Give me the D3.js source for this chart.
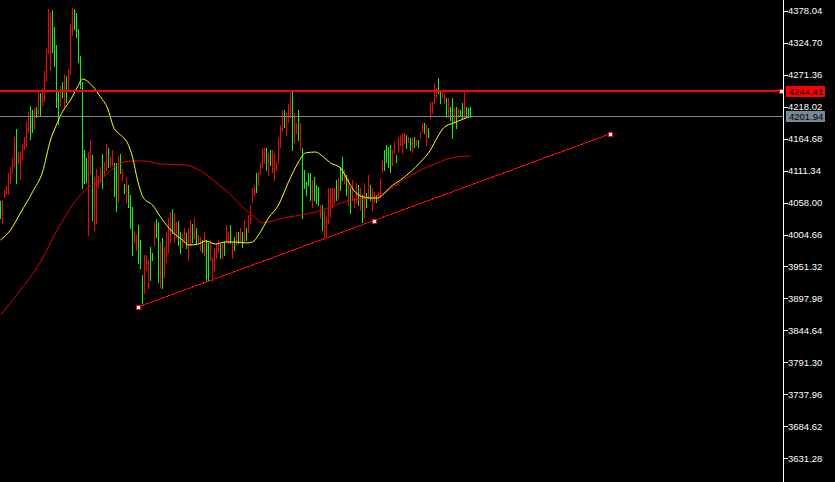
<!DOCTYPE html>
<html lang="en">
<head>
<meta charset="utf-8">
<style>
  body { margin: 0; background: #000; }
  svg { background: #000; display: block; }
  .axis-label { fill: #fff; font-family: "Liberation Sans", Arial, sans-serif; font-size: 9.5px; }
  .box-label { fill: #000; font-family: "Liberation Sans", Arial, sans-serif; font-size: 9.5px; }
</style>
<script src="https://d3js.org/d3.v7.min.js"></script>
</head>
<body>
<script>
var width = 835, height = 482;

// price axis labels (right side)
var tickLabels = ["4378.04","4324.70","4271.36","4218.02","4164.68","4111.34","4058.00",
  "4004.66","3951.32","3897.98","3844.64","3791.30","3737.96","3684.62","3631.28"];

// bar colours, one letter per bar: r = red, g = green
var barColor = ("grrrrrrrgr" + "rrrrrggrgr" + "grrrrrgggg" + "rgrgrrrggg" + "ggggrrgrrr" +
  "rgrrgrrggr" + "grgrgggrrg" + "ggrrrggrgg" + "rgrrrrgrrg" + "grrgrrgrgr" +
  "rgrggrrrrr" + "grgrrgrgrg" + "rgrgrrrrgr" + "rrrgrgrrrr" + "rrgrrrgrrg" +
  "rgggggrggg" + "rgrrrrrrgr" + "ggrgrgrrrg" + "rgrgrgrrgr" + "rrggggrrgr" +
  "rrrgrgrgrg" + "rrgrgrrrrg" + "grrgrggrgr" + "ggrggg").split("");

var highs = [
  4061,4061,4079,4086,4107,4117,4132,4167,4181,4142,
  4144,4156,4167,4192,4209,4219,4212,4216,4217,4242,
  4241,4249,4277,4314,4381,4374,4379,4351,4321,4244,
  4252,4259,4272,4269,4281,4356,4383,4381,4374,4348,
  4302,4259,4146,4132,4142,4162,4137,4101,4114,4102,
  4117,4139,4126,4156,4149,4134,4146,4124,4124,4136,
  4139,4114,4089,4101,4087,4071,4051,4011,4004,4021,
  3996,3937,3970,3970,3962,3984,3974,4026,4031,4026,
  3992,3999,3984,4009,4032,4042,4047,4041,4026,4027,
  4009,4006,4015,4007,4015,4029,4022,4032,4015,4004,
  4001,3996,4009,3996,3991,3996,3965,3982,3989,3996,
  3989,3991,3992,4021,4009,4021,3992,4001,4009,4009,
  4015,4009,4029,4015,4037,4054,4082,4087,4107,4109,
  4124,4149,4149,4149,4141,4146,4146,4141,4126,4166,
  4187,4212,4212,4207,4222,4241,4244,4207,4191,4212,
  4191,4149,4112,4092,4107,4107,4096,4101,4087,4084,
  4054,4054,4046,4034,4082,4082,4082,4082,4096,4099,
  4117,4134,4112,4104,4099,4082,4096,4066,4091,4087,
  4082,4071,4091,4074,4104,4087,4082,4076,4071,4076,
  4099,4129,4146,4154,4151,4154,4146,4159,4137,4167,
  4171,4174,4174,4171,4167,4166,4166,4167,4162,4162,
  4176,4191,4191,4187,4182,4226,4226,4257,4249,4266,
  4246,4246,4241,4232,4232,4217,4232,4216,4217,4216,
  4212,4224,4242,4217,4216,4217];

var lows = [
  4032,4024,4067,4072,4072,4091,4107,4119,4091,4124,
  4097,4131,4147,4152,4176,4164,4176,4182,4201,4204,
  4202,4221,4227,4261,4308,4279,4309,4286,4217,4189,
  4219,4234,4219,4226,4246,4272,4338,4348,4334,4292,
  4249,4082,4091,4092,4004,4107,4029,4012,4024,4084,
  4092,4082,4104,4112,4117,4119,4121,4069,4044,4059,
  4107,4096,4074,4057,4051,4015,3970,3992,3979,3957,
  3949,3890,3907,3945,3915,3929,3962,3987,4001,3925,
  3917,3915,3934,3959,3975,3992,4007,3992,4001,3987,
  3974,3984,3992,3982,3962,3987,3992,3999,3991,3992,
  3979,3975,3970,3929,3929,3962,3929,3945,3965,3975,
  3965,3965,3970,3992,3991,3991,3965,3979,3987,3991,
  3992,3984,3992,3996,4009,4024,4059,4071,4076,4087,
  4106,4117,4124,4112,4104,4121,4109,4096,4112,4124,
  4151,4179,4184,4171,4192,4201,4146,4159,4174,4162,
  4146,4032,4082,4071,4087,4062,4051,4062,4057,4054,
  4032,4012,3999,4001,4024,4034,4051,4057,4062,4066,
  4079,4096,4091,4071,4054,4041,4062,4051,4057,4054,
  4046,4026,4034,4051,4066,4062,4046,4059,4059,4062,
  4067,4109,4112,4126,4117,4109,4121,4141,4126,4142,
  4154,4141,4157,4149,4159,4146,4142,4151,4154,4151,
  4166,4176,4174,4154,4167,4199,4207,4224,4234,4241,
  4224,4234,4224,4201,4201,4196,4166,4191,4182,4201,
  4204,4199,4199,4204,4201,4201];

// moving averages: [bar, price]
var fastMA = [[0,3995.5],[5,4012.2],[10,4040.6],[16,4075.6],[21,4109.0],[25,4162.3],
  [27.5,4184.0],[31.5,4212.4],[35,4229.1],[38.5,4250.8],[41,4264.1],[42.5,4262.4],
  [46,4252.4],[50,4234.1],[53.5,4215.7],[56.5,4184.0],[60,4170.7],[63.5,4157.3],
  [66,4134.0],[68.5,4095.6],[71.5,4065.6],[76,4053.9],[80,4033.9],[86,4008.9],
  [91,3995.5],[94,3987.2],[99,3988.8],[102.5,3993.8],[107.5,3988.8],[112.5,3992.2],
  [117.5,3992.2],[122.5,3990.5],[126,3992.2],[129,4003.9],[134,4032.2],[139,4053.9],
  [144,4092.3],[149,4125.6],[152.5,4140.7],[157.5,4142.3],[161.5,4134.0],[165,4124.0],
  [170,4115.6],[173.5,4095.6],[176.5,4078.9],[180,4068.9],[185,4065.6],[188.5,4065.6],
  [191,4070.6],[195,4083.9],[200,4095.6],[205,4109.0],[210,4125.6],[215,4145.7],
  [218.5,4167.3],[221.5,4182.4],[226.5,4190.7],[231.5,4197.4],[235,4202.4]];

var slowMA = [[0,3870.4],[2.5,3880.4],[10,3912.1],[20,3958.8],[27.5,4007.2],[33.5,4040.6],
  [39,4067.3],[43.5,4082.3],[50,4095.6],[56.5,4115.6],[61.5,4125.6],[66.5,4127.3],
  [71.5,4127.3],[80,4122.3],[92.5,4120.6],[101,4109.0],[107.5,4092.3],[114,4073.9],
  [121,4050.6],[127.5,4032.2],[131,4023.9],[134,4025.5],[141,4032.2],[147.5,4035.6],
  [157.5,4042.2],[165,4050.6],[175,4062.2],[185,4065.6],[191.5,4073.9],[201.5,4095.6],
  [210,4112.3],[218.5,4124.0],[225,4132.3],[235,4135.6]];

// trend line anchors [bar, price]
var trendPoints = [[68.75,3883.7],[186.75,4027.2],[304.75,4172.4]];

// horizontal levels
var levelPrices = [4244.41, 4201.94];
var levelLabels = ["4244.41", "4201.94"];
var levelColors = ["#ff0000", "#778899"];
var levelWidths = [2, 1];

var svg = d3.select("body").append("svg")
  .attr("width", width)
  .attr("height", height);

var x = d3.scaleLinear().domain([0, 1]).range([0.5, 2.5]);
var y = d3.scaleLinear().domain([3631.28, 4378.04]).range([458.3, 10.7]);
var axisX = 783.5;

// bars
var bars = svg.append("g").attr("shape-rendering", "crispEdges");
bars.selectAll("line")
  .data(highs)
  .enter().append("line")
  .attr("x1", function(d, i) { return x(i); })
  .attr("x2", function(d, i) { return x(i); })
  .attr("y1", function(d) { return y(d); })
  .attr("y2", function(d, i) { return y(lows[i]) + 1; })
  .attr("stroke", function(d, i) { return barColor[i] == "r" ? "#ff0000" : "#00ff00"; })
  .attr("stroke-width", 1);

// moving averages
var maLine = d3.line()
  .x(function(d) { return x(d[0]); })
  .y(function(d) { return y(d[1]); })
  .curve(d3.curveMonotoneX);

svg.append("path")
  .datum(slowMA)
  .attr("d", maLine)
  .attr("fill", "none")
  .attr("stroke", "#e00000")
  .attr("stroke-width", 1);

svg.append("path")
  .datum(fastMA)
  .attr("d", maLine)
  .attr("fill", "none")
  .attr("stroke", "#ffff00")
  .attr("stroke-width", 1);

// levels
function levelY(i) {
  var yy = Math.round(y(levelPrices[i]));
  return levelWidths[i] == 2 ? yy : yy + 0.5;
}
var lv = svg.append("g").attr("shape-rendering", "crispEdges");
lv.selectAll("line")
  .data(levelPrices)
  .enter().append("line")
  .attr("x1", 0)
  .attr("x2", axisX)
  .attr("y1", function(d, i) { return levelY(i); })
  .attr("y2", function(d, i) { return levelY(i); })
  .attr("stroke", function(d, i) { return levelColors[i]; })
  .attr("stroke-width", function(d, i) { return levelWidths[i]; });

// trend line
var trend = [trendPoints[0], trendPoints[trendPoints.length - 1]];
svg.append("line")
  .attr("x1", x(trend[0][0])).attr("y1", y(trend[0][1]))
  .attr("x2", x(trend[1][0])).attr("y2", y(trend[1][1]))
  .attr("stroke", "#ff0000")
  .attr("stroke-width", 1)
  .attr("shape-rendering", "crispEdges");

function marker(cx, cy) {
  svg.append("rect")
    .attr("x", Math.round(cx) - 2).attr("y", Math.round(cy) - 2)
    .attr("width", 4).attr("height", 4)
    .attr("fill", "#fff")
    .attr("stroke", "#ff0000")
    .attr("stroke-width", 1)
    .attr("shape-rendering", "crispEdges");
}
trendPoints.forEach(function(p) { marker(x(p[0]), y(p[1])); });
marker(axisX - 3, y(levelPrices[0]));

// price axis
svg.append("line")
  .attr("x1", axisX).attr("x2", axisX)
  .attr("y1", 0).attr("y2", height)
  .attr("stroke", "#fff")
  .attr("shape-rendering", "crispEdges");

var ticks = svg.append("g");
ticks.selectAll("line")
  .data(tickLabels)
  .enter().append("line")
  .attr("x1", axisX).attr("x2", axisX + 4)
  .attr("y1", function(d) { return Math.round(y(+d)) + 0.5; })
  .attr("y2", function(d) { return Math.round(y(+d)) + 0.5; })
  .attr("stroke", "#fff")
  .attr("shape-rendering", "crispEdges");

ticks.selectAll("text")
  .data(tickLabels)
  .enter().append("text")
  .attr("class", "axis-label")
  .attr("x", axisX + 4.5)
  .attr("y", function(d) { return y(+d); })
  .attr("dy", "0.35em")
  .text(function(d) { return d; });

// level price boxes
var boxes = svg.append("g").selectAll("g")
  .data(levelPrices)
  .enter().append("g");

boxes.append("rect")
  .attr("x", 786)
  .attr("y", function(d) { return Math.round(y(d)) - 5; })
  .attr("width", 39)
  .attr("height", 11)
  .attr("fill", function(d, i) { return levelColors[i]; })
  .attr("shape-rendering", "crispEdges");

boxes.append("text")
  .attr("class", "box-label")
  .attr("x", 789)
  .attr("y", function(d) { return Math.round(y(d)) + 0.5; })
  .attr("dy", "0.35em")
  .text(function(d, i) { return levelLabels[i]; });
</script>
</body>
</html>
